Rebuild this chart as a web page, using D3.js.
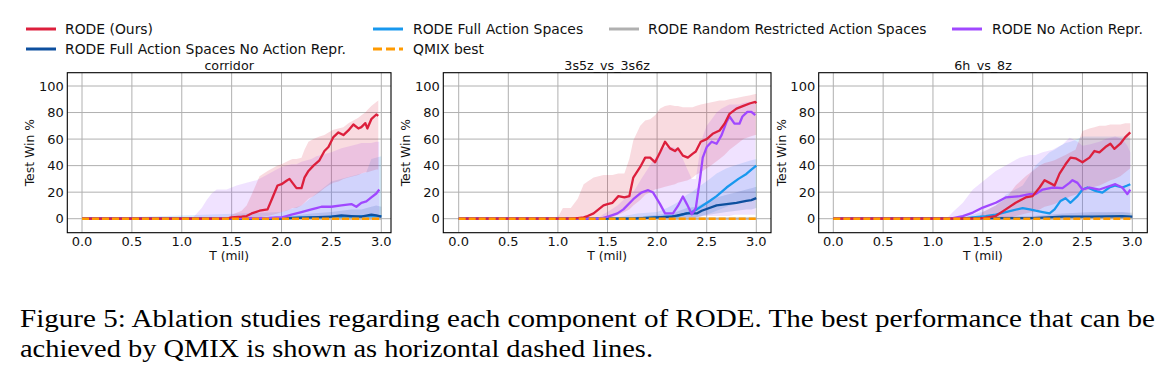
<!DOCTYPE html>
<html><head><meta charset="utf-8">
<script src="https://cdn.jsdelivr.net/npm/d3@7"></script>
<style>
html,body{margin:0;padding:0;background:#fff;}
svg{display:block;}
text{font-family:"DejaVu Sans",sans-serif;fill:#111;}
.cap{font-family:"Liberation Serif","Times New Roman",serif;fill:#000;}
</style></head>
<body>
<svg id="chart" width="1172" height="367"></svg>
<script>
// ---------------- DATA ----------------
const xTicks = [0.0, 0.5, 1.0, 1.5, 2.0, 2.5, 3.0];
const yTicks = [0, 20, 40, 60, 80, 100];
const panelTitles = ["corridor", "3s5z_vs_3s6z", "6h_vs_8z"];
const seriesNames = ["RODE (Ours)", "RODE Full Action Spaces No Action Repr.", "RODE Full Action Spaces",
  "RODE Random Restricted Action Spaces", "RODE No Action Repr.", "QMIX best"];
const qmixBest = [0, 0, 0]; // per panel

// rows: [t, mean, lower, upper]
const corridorRed = [[0,0,0,0],[1.45,0,0,0],[1.5,1,0,3],[1.6,1.5,0,6],[1.65,2,0,10],[1.7,4,0,18],[1.74,5,0,25],[1.78,6,1,32],[1.86,7,2,36],[1.91,16,3,38],[1.96,25,4,40],[2.0,26,5,41],[2.05,28.6,6,43],[2.08,30,7,44],[2.11,27,8,45],[2.15,23,8,45],[2.2,23,10,46],[2.23,31,12,52],[2.27,36,15,58],[2.32,40,17,60],[2.38,44,20,62],[2.43,51,23,63],[2.47,54,25,65],[2.52,61.5,27,67],[2.57,65,28,68],[2.62,63,30,69],[2.67,66.5,31,72],[2.72,71,32,74],[2.77,68,33,76],[2.8,69,34,78],[2.84,72,35,80],[2.86,68,35,82],[2.9,75,36,85],[2.95,78.5,37,88],[2.97,77.5,37,89]];
const corridorDarkBlue = [[0,0,0,0],[2.0,0,0,1],[2.1,0.5,0,2],[2.3,1,0,4],[2.5,1.5,0,5],[2.6,2.5,0,6],[2.7,2,0,7],[2.8,1.5,0,7],[2.9,3,0,9],[2.95,2.5,0,10],[3.0,1.5,0,9]];
const corridorLightBlue = [[0,0,0,0],[2.0,0.5,0,5],[2.2,1,0,10],[2.4,1,0,22],[2.5,1.5,0,28],[2.7,1.5,0,32],[2.85,2,0,35],[2.9,2,0,45],[3.0,2,0,47]];
const corridorGrey = [[0,0,0,0],[3.0,0,0,0.5]];
const corridorPurple = [[0,0,0,0],[1.1,0,0,0],[1.15,0,0,4],[1.2,0,0,8],[1.25,0,0,14],[1.3,0,0,19],[1.35,0.3,0,22],[1.45,0.3,0,22],[1.55,0.5,0,25],[1.65,0.5,0,27],[1.75,0.5,0,29],[1.85,0.5,0,33],[1.95,1,0,37],[2.0,1,0,39],[2.05,2,0,40],[2.1,3,0,41],[2.15,4,0,41],[2.2,5,0,43],[2.3,7,0,45],[2.35,8,0,47],[2.4,9,0,48],[2.5,9,0,50],[2.6,10,0,53],[2.7,11,0,55],[2.75,9,0,56],[2.8,12,0,57],[2.85,13,0,57],[2.9,16,0,57],[2.95,19,0,58],[2.98,22,0,58]];

const s3s5zRed = [[0,0,0,0],[1.0,0,0,1],[1.05,0,0,8],[1.13,0,0,8],[1.2,0.5,0,15],[1.26,1,0,26],[1.3,2,0,28],[1.36,4,0,31],[1.46,10,0,33],[1.5,11,0,33],[1.55,12,1,33],[1.61,17,3,34],[1.67,16,5,34],[1.72,17,7,45],[1.76,31,10,59],[1.83,39,14,70],[1.88,46,18,74],[1.93,46,20,75],[1.98,42.5,22,78],[2.03,50,23,83],[2.08,58,24,85],[2.13,53,25,85.6],[2.18,51,26,85],[2.21,53,27,85],[2.26,47.5,28,84],[2.31,46,29,84],[2.36,49,31,84],[2.39,50.6,33,85],[2.44,58,35,86],[2.5,60,38,87],[2.56,64,41,88],[2.63,66.5,45,89],[2.68,71.6,48,89],[2.73,79,52,90],[2.8,83,56,91],[2.87,85,60,92],[2.94,87,62,93],[2.99,88,63,94],[3.0,87,63,94]];
const s3s5zDarkBlue = [[0,0,0,0],[1.75,0,0,1],[2.0,1,0,3],[2.15,1.5,0,4],[2.3,4,1,8],[2.4,4,1,9],[2.45,6,2,11],[2.6,10,4,16],[2.7,11,5,18],[2.8,12,6,20],[2.9,13.4,7,22],[2.95,14,7,23],[3.0,15.5,8,24]];
const s3s5zLightBlue = [[0,0,0,0],[1.6,0,0,1],[1.8,0.3,0,4],[2.0,1,0,5],[2.1,1.5,0,8],[2.2,2,0,12],[2.3,4,0,18],[2.35,5,0,20],[2.4,7,1,23],[2.53,13.4,4,30],[2.6,17,6,34],[2.7,23.5,9,38],[2.82,30,12,41],[2.9,33.7,14,43],[2.95,37,15,44],[3.0,40,16,45]];
const s3s5zGrey = [[0,0,0,0],[3.0,0,0,0.5]];
const s3s5zPurple = [[0,0,0,0],[1.4,0,0,0],[1.45,0.5,0,3],[1.52,2,0,6],[1.6,4,0,10],[1.66,7,0,14],[1.76,14.7,0,20],[1.84,19.7,1,30],[1.91,21.5,2,38],[1.96,19.7,2,44],[2.03,11,1,50],[2.08,4,0,54],[2.16,4,0,54],[2.21,9.6,0,52],[2.26,16.7,1,45],[2.3,11,0,38],[2.35,3.3,0,30],[2.39,8,0,30],[2.43,28.6,1,50],[2.46,46,2,62],[2.5,54,2,70],[2.55,58,2,75],[2.6,56.5,2,80],[2.65,63,2,83],[2.7,73,2,85],[2.73,77,2,86],[2.78,71.6,3,86],[2.83,71.6,3,86],[2.86,77,3,87],[2.91,80.5,3,88],[2.95,80.5,3,88],[2.99,78,3,88]];

const s6hRed = [[0,0,0,0],[1.45,0,0,0],[1.5,0.5,0,5],[1.63,2,0,10],[1.73,7,0,15],[1.83,12,2,25],[1.93,16,4,32],[2.0,17,5,36],[2.07,23.5,7,40],[2.12,29,9,42],[2.17,27,10,43],[2.22,25,11,44],[2.27,34,13,46],[2.33,41,15,48],[2.38,46,17,50],[2.43,45.5,18,52],[2.5,42.5,20,66],[2.57,46,22,68],[2.62,51,24,69],[2.67,50,25,70],[2.73,54,27,70],[2.78,56.5,29,71],[2.82,52.6,30,71],[2.88,56.5,32,71],[2.93,61.5,35,72],[2.98,65,38,72]];
const s6hDarkBlue = [[0,0,0,0],[2.0,0.5,0,2],[2.3,1.5,0,4],[2.6,1.5,0,5],[2.9,2,0,5],[3.0,1.5,0,4]];
const s6hLightBlue = [[0,0,0,0],[1.3,0,0,1],[1.4,1,0,3],[1.53,2,0,6],[1.63,3,0,10],[1.73,5,0,18],[1.9,8,0,25],[1.97,7,0,33],[2.03,6,0,40],[2.1,5,0,45],[2.17,4,0,50],[2.22,7,0,52],[2.28,13.4,0,55],[2.33,15.4,0,57],[2.38,12,0,58],[2.45,17,0,60],[2.5,22,1,62],[2.55,23.5,1,62],[2.63,21,1,62],[2.7,19.7,1,62],[2.77,23.5,2,62],[2.83,25,2,62],[2.9,23.5,2,62],[2.95,25,2,62],[2.98,26,2,60]];
const s6hGrey = [[0,0,0,0],[2.3,0,0,1],[2.6,0.5,0,4],[3.0,0.5,0,5]];
const s6hPurple = [[0,0,0,0],[1.15,0,0,1],[1.2,0.5,0,5],[1.3,2,0,12],[1.4,4.6,0,22],[1.5,8.4,0,28],[1.63,12,0,36],[1.73,16,0,40],[1.87,17,0,46],[1.97,18.5,0,48],[2.03,18.5,0,48],[2.1,22,0,50],[2.2,23.5,0,52],[2.3,23,0,56],[2.37,27,1,61],[2.4,29,2,60],[2.45,27,2,58],[2.5,22,2,55],[2.57,23.5,2,56],[2.67,22,2,58],[2.73,23.5,2,60],[2.83,26,3,62],[2.9,23.5,3,60],[2.95,18.5,3,55],[2.98,22,3,50]];

const captionLines = ["Figure 5:  Ablation studies regarding each component of RODE. The best performance that can be",
  "achieved by QMIX is shown as horizontal dashed lines."];

// ---------------- STYLE / LAYOUT ----------------
const colors = ["#dc1f3c", "#0d4f9e", "#1898ee", "#b0b0b0", "#a048ff", "#ff9a00"];
const panelData = [
  [corridorRed, corridorDarkBlue, corridorLightBlue, corridorGrey, corridorPurple],
  [s3s5zRed, s3s5zDarkBlue, s3s5zLightBlue, s3s5zGrey, s3s5zPurple],
  [s6hRed, s6hDarkBlue, s6hLightBlue, s6hGrey, s6hPurple]
];
const layout = [
  {left: 67.3, right: 391, x0: 82, x3: 381.3},
  {left: 443.3, right: 771, x0: 458.7, x3: 756.3},
  {left: 818.7, right: 1147.3, x0: 833.3, x3: 1132.3}
];
const plotTop = 72.7, plotBottom = 232.7;

const svg = d3.select("#chart");
const y = d3.scaleLinear().domain([0, 100]).range([218.7, 86]);

const drawOrder = [3, 2, 1, 4, 0]; // grey, light blue, dark blue, purple, red

panelData.forEach((series, pi) => {
  const L = layout[pi];
  const x = d3.scaleLinear().domain([0, 3]).range([L.x0, L.x3]);
  const g = svg.append("g");
  const clipId = "clip" + pi;
  svg.append("clipPath").attr("id", clipId).append("rect")
    .attr("x", L.left).attr("y", plotTop).attr("width", L.right - L.left).attr("height", plotBottom - plotTop);

  // grid
  g.selectAll(".gx").data(xTicks).enter().append("line")
    .attr("x1", d => x(d)).attr("x2", d => x(d)).attr("y1", plotTop).attr("y2", plotBottom)
    .attr("stroke", "#b0b0b0").attr("stroke-width", 1);
  g.selectAll(".gy").data(yTicks).enter().append("line")
    .attr("y1", d => y(d)).attr("y2", d => y(d)).attr("x1", L.left).attr("x2", L.right)
    .attr("stroke", "#b0b0b0").attr("stroke-width", 1);

  const plot = g.append("g").attr("clip-path", `url(#${clipId})`);
  const area = d3.area().x(d => x(d[0])).y0(d => y(d[2])).y1(d => y(d[3]));
  const line = d3.line().x(d => x(d[0])).y(d => y(d[1]));

  drawOrder.forEach(si => {
    plot.append("path").attr("d", area(series[si])).attr("fill", colors[si]).attr("fill-opacity", 0.16).attr("stroke", "none");
  });
  drawOrder.forEach(si => {
    plot.append("path").attr("d", line(series[si])).attr("fill", "none")
      .attr("stroke", colors[si]).attr("stroke-width", 2.3).attr("stroke-linejoin", "round");
  });
  // QMIX best dashed
  plot.append("line").attr("x1", x(0)).attr("x2", x(3)).attr("y1", y(qmixBest[pi])).attr("y2", y(qmixBest[pi]))
    .attr("stroke", colors[5]).attr("stroke-width", 2.5).attr("stroke-dasharray", "7,3");

  // frame
  g.append("rect").attr("x", L.left).attr("y", plotTop).attr("width", L.right - L.left).attr("height", plotBottom - plotTop)
    .attr("fill", "none").attr("stroke", "#000").attr("stroke-width", 1.1);

  // tick labels
  g.selectAll(".xt").data(xTicks).enter().append("text")
    .attr("x", d => x(d)).attr("y", 245.7).attr("text-anchor", "middle").attr("font-size", 13)
    .text(d => d.toFixed(1));
  g.selectAll(".yt").data(yTicks).enter().append("text")
    .attr("x", L.left - 3.5).attr("y", d => y(d) + 4.7).attr("text-anchor", "end").attr("font-size", 13)
    .text(d => d);
  // axis labels
  g.append("text").attr("x", (L.left + L.right) / 2).attr("y", 259.5).attr("text-anchor", "middle")
    .attr("font-size", 12.3).text("T (mil)");
  g.append("text").attr("transform", `translate(${L.left - 33},${(plotTop + plotBottom) / 2}) rotate(-90)`)
    .attr("text-anchor", "middle").attr("font-size", 12.4).text("Test Win %");
  // title
  g.append("text").attr("x", (L.left + L.right) / 2).attr("y", 69.8).attr("text-anchor", "middle")
    .attr("font-size", 12.7).text(panelTitles[pi]);
});

// legend
const legendPos = [
  {lx: 26, tx: 65, y: 29}, {lx: 26, tx: 65, y: 49},
  {lx: 373, tx: 413, y: 29}, {lx: 609, tx: 648, y: 29},
  {lx: 952, tx: 992, y: 29}, {lx: 373, tx: 413, y: 49}
];
const lg = svg.append("g");
seriesNames.forEach((name, i) => {
  const p = legendPos[i];
  const ln = lg.append("line").attr("x1", p.lx).attr("x2", p.lx + 30).attr("y1", p.y).attr("y2", p.y)
    .attr("stroke", colors[i]).attr("stroke-width", i === 5 ? 2.8 : 3);
  if (i === 5) ln.attr("stroke-dasharray", "9,4");
  lg.append("text").attr("x", p.tx).attr("y", p.y + 5.2).attr("font-size", 13.9).text(name);
});

// caption
svg.append("text").attr("class", "cap").attr("x", 20).attr("y", 327).attr("font-size", 26)
  .attr("textLength", 1135).attr("lengthAdjust", "spacingAndGlyphs").text(captionLines[0]);
svg.append("text").attr("class", "cap").attr("x", 20).attr("y", 357).attr("font-size", 26)
  .attr("textLength", 633).attr("lengthAdjust", "spacingAndGlyphs").text(captionLines[1]);
</script>
</body></html>
